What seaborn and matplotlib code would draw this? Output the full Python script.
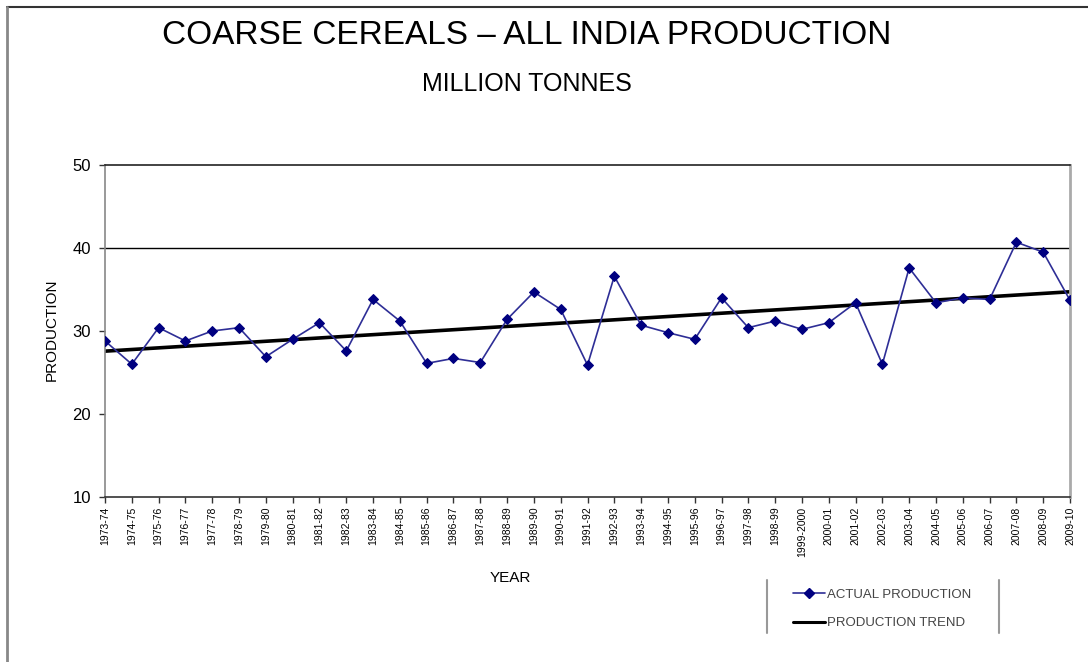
"""Coarse cereals - all India production, actual vs linear trend."""

import matplotlib

matplotlib.use("Agg")
import matplotlib.pyplot as plt
import numpy as np
import pandas as pd
import seaborn as sns
from matplotlib.lines import Line2D


YEARS = [
    "1973-74", "1974-75", "1975-76", "1976-77", "1977-78", "1978-79",
    "1979-80", "1980-81", "1981-82", "1982-83", "1983-84", "1984-85",
    "1985-86", "1986-87", "1987-88", "1988-89", "1989-90", "1990-91",
    "1991-92", "1992-93", "1993-94", "1994-95", "1995-96", "1996-97",
    "1997-98", "1998-99", "1999-2000", "2000-01", "2001-02", "2002-03",
    "2003-04", "2004-05", "2005-06", "2006-07", "2007-08", "2008-09",
    "2009-10",
]
PRODUCTION = [
    28.8, 26.0, 30.4, 28.8, 30.0, 30.4,
    26.9, 29.0, 31.0, 27.6, 33.8, 31.2,
    26.1, 26.7, 26.2, 31.4, 34.7, 32.6,
    25.9, 36.6, 30.7, 29.8, 29.0, 34.0,
    30.4, 31.2, 30.2, 31.0, 33.4, 26.0,
    37.6, 33.4, 34.0, 33.8, 40.7, 39.5,
    33.7,
]
Y_TICKS = [10, 20, 30, 40, 50]

W, H = 1088, 662


def main() -> None:
    df = pd.DataFrame({"year": YEARS, "production": PRODUCTION})
    df["pos"] = np.arange(len(df))

    sns.set_theme(style="white")
    plt.rcParams["font.family"] = ["Liberation Sans", "DejaVu Sans"]
    plt.rcParams["text.color"] = "black"
    plt.rcParams["xtick.color"] = "black"
    plt.rcParams["ytick.color"] = "black"

    fig = plt.figure(figsize=(W / 100, H / 100), dpi=100)
    ax = fig.add_axes([105 / W, 1 - 497 / H, (1070 - 105) / W, (497 - 165) / H])

    sns.regplot(
        data=df, x="pos", y="production", scatter=False, ci=None, ax=ax,
        line_kws={"color": "black", "linewidth": 2.6, "zorder": 2},
        truncate=True,
    )
    sns.lineplot(
        data=df, x="pos", y="production", ax=ax, color="#2e2e96",
        linewidth=1.2, marker="D", markersize=5.5,
        markerfacecolor="#000080", markeredgecolor="#000080", zorder=3,
    )
    ax.axhline(40, color="black", linewidth=1.0, zorder=1)

    ax.set_xlim(0, len(df) - 1)
    ax.set_ylim(10, 50)
    ax.set_yticks(Y_TICKS)
    ax.set_yticklabels([str(t) for t in Y_TICKS], fontsize=12)
    ax.set_xticks(df["pos"])
    ax.set_xticklabels(df["year"], rotation=90, fontsize=7.5)
    ax.tick_params(axis="x", length=4, width=1, color="#333333", pad=3, direction="out")
    ax.tick_params(axis="y", length=4, width=1, color="#333333", pad=6, direction="out")
    ax.xaxis.set_ticks_position("bottom")
    ax.yaxis.set_ticks_position("left")
    ax.set_xlabel("")
    ax.set_ylabel("")

    ax.spines["top"].set_color("#222222")
    ax.spines["bottom"].set_color("#333333")
    ax.spines["left"].set_color("#888888")
    ax.spines["right"].set_color("#aaaaaa")
    for side in ["top", "bottom", "left", "right"]:
        ax.spines[side].set_linewidth(1.2)
    ax.spines["right"].set_linewidth(2)

    fig.text(527 / W, 1 - 35 / H, "COARSE CEREALS \u2013 ALL INDIA PRODUCTION",
             ha="center", va="center", fontsize=24)
    fig.text(527 / W, 1 - 84 / H, "MILLION TONNES",
             ha="center", va="center", fontsize=18)
    fig.text(510 / W, 1 - 578 / H, "YEAR", ha="center", va="center", fontsize=11)
    fig.text(52 / W, 1 - 330 / H, "PRODUCTION", ha="center", va="center",
             fontsize=11, rotation=90)

    # outer frame pieces
    fig.add_artist(Line2D([7 / W, 1], [1 - 7 / H, 1 - 7 / H],
                          transform=fig.transFigure, color="#333333", linewidth=1.5))
    fig.add_artist(Line2D([7 / W, 7 / W], [0, 1 - 7 / H],
                          transform=fig.transFigure, color="#888888", linewidth=2))

    # legend with side bars only
    handles = [
        Line2D([], [], color="#2e2e96", linewidth=1.2, marker="D", markersize=5,
               markerfacecolor="#000080", markeredgecolor="#000080"),
        Line2D([], [], color="black", linewidth=2.2),
    ]
    fig.legend(
        handles, ["ACTUAL PRODUCTION", "PRODUCTION TREND"],
        loc="center left", bbox_to_anchor=(781 / W, 1 - 609 / H),
        frameon=False, fontsize=9.5, labelcolor="#444444",
        handlelength=2.4, handletextpad=0.15, labelspacing=1.2,
    )
    for x in (767, 999):
        fig.add_artist(Line2D([x / W, x / W], [1 - 580 / H, 1 - 633 / H],
                              transform=fig.transFigure, color="#999999", linewidth=1.5))

    fig.savefig("out.png", dpi=100)
    plt.close(fig)


if __name__ == "__main__":
    main()
